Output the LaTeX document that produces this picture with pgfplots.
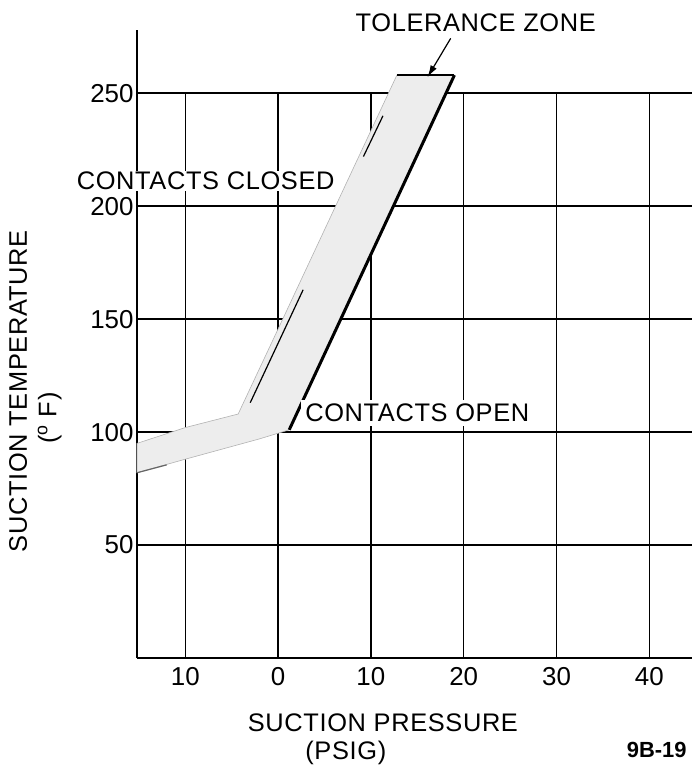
\documentclass[border=0pt]{standalone}
\usepackage{fontspec}
\setmainfont{Liberation Sans}
\newfontfamily\labfont{Liberation Sans}[LetterSpace=2.5]
\usepackage{pgfplots}
\pgfplotsset{compat=1.18}
\usetikzlibrary{arrows.meta}
\newcommand\lab{\labfont\fontsize{25.5}{30}\selectfont}
\begin{document}
\begin{tikzpicture}
\begin{axis}[
  at={(0,0)}, anchor=south west,
  scale only axis, width=555bp, height=628bp,
  xmin=-15.2, xmax=44.6, ymin=0, ymax=278,
  axis x line=bottom, axis y line=left,
  axis line style={-, line width=1.5bp},
  xtick={-10,0,10,20,30,40}, xticklabels={10,0,10,20,30,40},
  ytick={50,100,150,200,250}, yticklabels={50,100,150,200,250},
  major tick length=0pt,
  ymajorgrids, grid style={black, line width=1.5bp},
  tick label style={font=\fontsize{26}{30}\selectfont},
  xticklabel style={yshift=-6bp},
  clip=false,
]
% vertical grid lines (stop at 250)
\addplot[black, line width=1.5bp] coordinates {(-10,0) (-10,250)};
\addplot[black, line width=1.5bp] coordinates {(0,0) (0,250)};
\addplot[black, line width=1.5bp] coordinates {(10,0) (10,250)};
\addplot[black, line width=1.5bp] coordinates {(20,0) (20,250)};
\addplot[black, line width=1.5bp] coordinates {(30,0) (30,250)};
\addplot[black, line width=1.5bp] coordinates {(40,0) (40,250)};
% tolerance zone
\addplot[fill=black!7, draw=black!30, line width=0.6bp] coordinates {
  (-15.2,82) (-10,88) (-6,92.5) (-2,97) (1.2,101)
  (19.0,258) (12.8,258) (0.5,150) (-4.3,108)
  (-10,102) (-15.2,95)
} -- cycle;
\addplot[black, line width=3bp] coordinates {(1.2,101) (19.0,258)};
\addplot[black, line width=2.5bp] coordinates {(12.8,258) (19.0,258)};
\addplot[black, line width=1.2bp] coordinates {(-3.0,113) (2.7,163)};
\addplot[black, line width=1.2bp] coordinates {(9.2,222) (11.3,240)};
\addplot[black!60, line width=1.2bp] coordinates {(-15.2,82) (-12,85.5)};
\coordinate (tz) at (axis cs:21.3,281.4);
\coordinate (a1) at (axis cs:18.6,274.3);
\coordinate (a2) at (axis cs:16.1,257.1);
\coordinate (cc) at (axis cs:-7.8,211.2);
\coordinate (co) at (axis cs:15.0,108.4);
\coordinate (yl) at (axis cs:-28.0,118.1);
\coordinate (yu) at (axis cs:-24.6,106.2);
\coordinate (xl) at (axis cs:11.3,-28.8);
\coordinate (xu) at (axis cs:7.3,-41.9);
\coordinate (fg) at (axis cs:40.8,-40.7);
\end{axis}
\node[font=\lab, inner sep=0pt] at (tz) {TOLERANCE ZONE};
\draw[-{Latex[length=12bp,width=7bp]}, line width=1.2bp] (a1) -- (a2);
\node[font=\lab, fill=white, inner xsep=6bp, inner ysep=1bp] at (cc) {CONTACTS CLOSED};
\node[font=\lab, fill=white, inner sep=4bp] at (co) {CONTACTS OPEN};
\node[font=\lab, rotate=90, inner sep=0pt] at (yl) {SUCTION TEMPERATURE};
\node[font=\lab, rotate=90, inner sep=0pt] at (yu) {(\textsuperscript{o} F)};
\node[font=\lab, inner sep=0pt] at (xl) {SUCTION PRESSURE};
\node[font=\lab, inner sep=0pt] at (xu) {(PSIG)};
\node[font=\fontsize{22}{26}\selectfont\bfseries, inner sep=0pt] at (fg) {9B-19};
\pgfresetboundingbox
\path (-137bp,-108bp) rectangle (558bp,658bp);
\end{tikzpicture}
\end{document}
